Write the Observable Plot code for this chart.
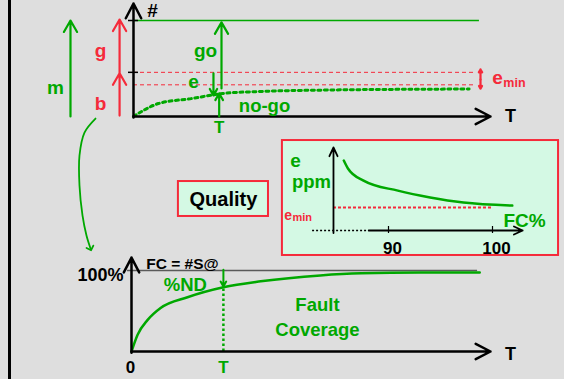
<!DOCTYPE html>
<html><head><meta charset="utf-8">
<script src="https://cdn.jsdelivr.net/npm/d3@7"></script>
<script src="https://cdn.jsdelivr.net/npm/@observablehq/plot@0.6"></script>
<style>
html,body{margin:0;padding:0;background:#dedede;}
#chart{position:relative;width:564px;height:379px;background:#dedede;overflow:hidden;font-family:"Liberation Sans",Arial,sans-serif;}
#chart svg{position:absolute;left:0;top:0;}
#edge{position:absolute;left:8px;top:0;width:3px;height:379px;background:#000;}
</style></head><body><div id="chart"><div id="edge"></div></div>
<script>
// ---------- DATA ----------
// Top diagram: number of chips (#) versus test time T
const topTotal = 100;          // m = g + b
const topBad = 46;             // level separating b (bad) and g (good)
const topEscapeFloor = 33;     // b - e_min
const topTestT = 0.24;         // chosen test time T
const noGoT     = [0, 0.07, 0.165, 0.25, 0.35, 0.53, 0.75, 0.94];
const noGoCount = [0, 13.5, 18.8, 24, 26, 27.5, 28.3, 28.6];

// Bottom diagram: fault coverage (%) versus test time T
const fcT   = [0, 0.017, 0.045, 0.081, 0.156, 0.256, 0.36, 0.526, 0.64, 0.805, 0.97];
const fcPct = [0, 20.7, 39, 53.7, 67, 79.3, 86.6, 93.9, 96.5, 97.5, 97.5];
const fcTestT = 0.256;
const fcTestPct = 79.3;

// Inset: escapes e (ppm) versus fault coverage FC%
const qFC  = [85.7, 86.1, 87.6, 90.9, 94, 97.2, 101.9];
const qPpm = [84.3, 74.7, 60, 48, 39.8, 33.7, 30];
const qEmin = 27.7;
const qTicks = [90, 100];

// ---------- STYLE ----------
const GREEN = "#00a800", RED = "#f52a3a", MINT = "#d4f9e4", FONT = "Liberation Sans, Arial, sans-serif";
const base = {width: 564, height: 379, margin: 0,
  style: {background: "transparent", fontFamily: FONT, overflow: "visible"}};
const B = {fontWeight: "bold"};
const chartEl = document.getElementById("chart");

// ---------- TOP ----------
const noGo = noGoT.map((t, i) => ({t, n: noGoCount[i]}));
const topArrows = [
  {x1: -0.1765, y1: 0, x2: -0.1765, y2: topTotal, c: GREEN},            // m
  {x1: -0.039, y1: topBad, x2: -0.039, y2: topTotal + 1, c: RED},       // g
  {x1: -0.039, y1: 1, x2: -0.039, y2: topBad - 1, c: RED},              // b
  {x1: 0.2465, y1: 29.2, x2: 0.2465, y2: 98, c: GREEN},                 // go
  {x1: 0.224, y1: topBad - 1, x2: 0.224, y2: 22, c: GREEN},             // e
  {x1: topTestT, y1: 0, x2: topTestT, y2: 24, c: GREEN},                // no-go
  {x1: 0.972, y1: 38.5, x2: 0.972, y2: topBad + 3, c: RED},             // e_min up
  {x1: 0.972, y1: 38.5, x2: 0.972, y2: 29, c: RED}                      // e_min down
];
const swoop = [[-0.1064, -2.1], [-0.1373, -16.7], [-0.1513, -40.6], [-0.1513, -71.9],
               [-0.1429, -103.1], [-0.1317, -124], [-0.1204, -137.5]].map(([x, y]) => ({x, y}));
const topPlot = Plot.plot({...base,
  x: {domain: [0, 1], range: [133, 490], axis: null},
  y: {domain: [0, 100], range: [116, 20], axis: null},
  marks: [
    Plot.ruleY([topTotal], {x1: 0, x2: 0.969, stroke: GREEN, strokeWidth: 1.5}),
    Plot.ruleY([topBad, topEscapeFloor], {x1: 0, x2: 0.958, stroke: RED, strokeWidth: 1, strokeDasharray: "4,3"}),
    Plot.ruleY([topTotal, topBad], {x1: -0.014, x2: 0.014, stroke: "#000", strokeWidth: 1.5}),
    Plot.line(noGo, {x: "t", y: "n", curve: "monotone-x", stroke: GREEN, strokeWidth: 3, strokeDasharray: "3,3.5"}),
    Plot.arrow([{x1: 0, y1: 0, x2: 1, y2: 0}, {x1: 0, y1: -1, x2: 0, y2: 117.7}],
      {x1: "x1", y1: "y1", x2: "x2", y2: "y2", stroke: "#000", strokeWidth: 2.5, headLength: 10, headAngle: 55}),
    Plot.arrow(topArrows, {x1: "x1", y1: "y1", x2: "x2", y2: "y2", stroke: "c", strokeWidth: 2.2, headLength: 9, headAngle: 60}),
    Plot.line(swoop, {x: "x", y: "y", curve: "catmull-rom", stroke: GREEN, strokeWidth: 1.8, markerEnd: "arrow"}),
    Plot.text(["#"], {x: 0.053, y: 110.4, fontSize: 19, ...B, fill: "#000"}),
    Plot.text(["T"], {x: 1.056, y: 0, fontSize: 18, ...B, fill: "#000"}),
    Plot.text(["m"], {x: -0.2185, y: 30.2, fontSize: 19, ...B, fill: GREEN}),
    Plot.text(["g", "b"], {x: -0.0924, y: [68.75, 13.5], fontSize: 19, ...B, fill: RED}),
    Plot.text(["go"], {x: 0.2017, y: 68.75, fontSize: 19, ...B, fill: GREEN}),
    Plot.text(["e"], {x: 0.168, y: 36.5, fontSize: 19, ...B, fill: GREEN}),
    Plot.text(["no-go"], {x: 0.367, y: 10.4, fontSize: 18.5, ...B, fill: GREEN}),
    Plot.text(["T"], {x: topTestT, y: -11.5, fontSize: 17, ...B, fill: GREEN}),
    Plot.text(["e"], {x: 1.0196, y: 40.6, fontSize: 19, ...B, fill: RED}),
    Plot.text(["min"], {x: 1.036, y: 34.4, fontSize: 12.5, ...B, fill: RED, textAnchor: "start"})
  ]
});
chartEl.appendChild(topPlot);

// ---------- BOTTOM ----------
const fc = fcT.map((t, i) => ({t, p: fcPct[i]}));
const bottomPlot = Plot.plot({...base,
  x: {domain: [0, 1], range: [131, 490], axis: null},
  y: {domain: [0, 100], range: [351, 270], axis: null},
  marks: [
    Plot.ruleY([100], {x1: -0.011, x2: 0.964, stroke: "#5a5a5a", strokeWidth: 1.5}),
    Plot.ruleX([fcTestT], {y1: 0, y2: fcTestPct, stroke: GREEN, strokeWidth: 2.5, strokeDasharray: "2.5,2.5"}),
    Plot.line(fc, {x: "t", y: "p", curve: "monotone-x", stroke: GREEN, strokeWidth: 2.5}),
    Plot.arrow([{x1: 0, y1: 0, x2: 1, y2: 0}, {x1: 0, y1: -1.5, x2: 0, y2: 115.9}],
      {x1: "x1", y1: "y1", x2: "x2", y2: "y2", stroke: "#000", strokeWidth: 2.5, headLength: 10, headAngle: 55}),
    Plot.arrow([{x1: fcTestT, y1: 101, x2: fcTestT, y2: fcTestPct + 1}],
      {x1: "x1", y1: "y1", x2: "x2", y2: "y2", stroke: GREEN, strokeWidth: 2, headLength: 8}),
    Plot.text(["100%"], {x: -0.0864, y: 93.8, fontSize: 18, ...B, fill: "#000"}),
    Plot.text(["FC = #S@"], {x: 0.142, y: 108.6, fontSize: 15.5, ...B, fill: "#000"}),
    Plot.text(["%ND"], {x: 0.150, y: 81.5, fontSize: 18.5, ...B, fill: GREEN}),
    Plot.text(["0"], {x: -0.003, y: -19.75, fontSize: 17, ...B, fill: "#000"}),
    Plot.text(["T"], {x: fcTestT, y: -19.75, fontSize: 17, ...B, fill: GREEN}),
    Plot.text(["T"], {x: 1.056, y: -3.7, fontSize: 18, ...B, fill: "#000"}),
    Plot.text(["Fault\nCoverage"], {x: 0.518, y: 44.9, fontSize: 18.5, lineHeight: 1.35, ...B, fill: GREEN})
  ]
});
chartEl.appendChild(bottomPlot);

// ---------- INSET ----------
const q = qFC.map((f, i) => ({f, e: qPpm[i]}));
const insetPlot = Plot.plot({...base,
  x: {domain: [90, 100], range: [388, 492], axis: null},
  y: {domain: [0, 100], range: [230, 147], axis: null},
  marks: [
    Plot.rect([{x1: 79.8, x2: 106.35, y1: -30.1, y2: 108.4}], {x1: "x1", x2: "x2", y1: "y1", y2: "y2", fill: MINT, stroke: RED, strokeWidth: 2}),
    Plot.rect([{x1: 69.8, x2: 78.46, y1: 16.9, y2: 59.0}], {x1: "x1", x2: "x2", y1: "y1", y2: "y2", fill: MINT, stroke: RED, strokeWidth: 2}),
    Plot.text(["Quality"], {x: 74.13, y: 37.3, fontSize: 20, ...B, fill: "#000"}),
    Plot.ruleY([qEmin], {x1: 84.71, x2: 100, stroke: RED, strokeWidth: 2, strokeDasharray: "3,2"}),
    Plot.ruleY([0], {x1: 82.7, x2: 88.1, stroke: "#000", strokeWidth: 1.5, strokeDasharray: "2,2"}),
    Plot.arrow([{x1: 88.1, y1: 0, x2: 102.9, y2: 0}, {x1: 84.71, y1: -3, x2: 84.71, y2: 100}],
      {x1: "x1", y1: "y1", x2: "x2", y2: "y2", stroke: "#000", strokeWidth: 1.8, headLength: 8, headAngle: 50}),
    Plot.ruleX(qTicks, {y1: -3.6, y2: 4.8, stroke: "#000", strokeWidth: 1.2}),
    Plot.line(q, {x: "f", y: "e", curve: "monotone-x", stroke: GREEN, strokeWidth: 2.5}),
    Plot.text(qTicks, {x: d => d, y: -21.7, dx: 4, text: d => String(d), fontSize: 17, ...B, fill: "#000"}),
    Plot.text(["e"], {x: 81.06, y: 84.3, fontSize: 19, ...B, fill: GREEN}),
    Plot.text(["ppm"], {x: 82.6, y: 57.8, fontSize: 18.5, ...B, fill: GREEN}),
    Plot.text(["e"], {x: 80.34, y: 18.1, fontSize: 14, ...B, fill: RED}),
    Plot.text(["min"], {x: 80.77, y: 15.2, fontSize: 11, ...B, fill: RED, textAnchor: "start"}),
    Plot.text(["FC%"], {x: 103.08, y: 12, fontSize: 19, ...B, fill: GREEN})
  ]
});
chartEl.appendChild(insetPlot);
</script></body></html>
